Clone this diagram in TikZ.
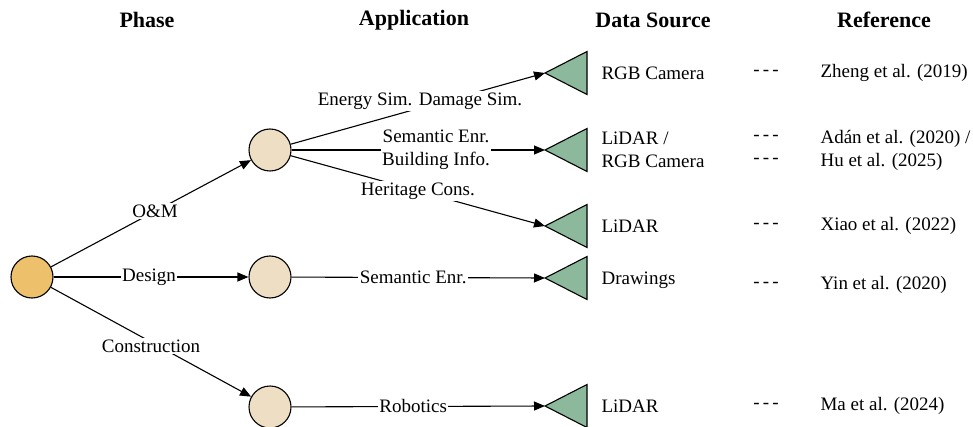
\documentclass[tikz,border=0pt]{standalone}
\usepackage{fontspec}
\setmainfont{Liberation Serif}
\usetikzlibrary{arrows.meta,positioning}
\definecolor{rootfill}{HTML}{EDC06C}
\definecolor{appfill}{HTML}{EEDEC3}
\definecolor{srcfill}{HTML}{8CB89B}
\begin{document}
\begin{tikzpicture}[x=1pt, y=-1pt, font=\fontsize{19}{23}\selectfont,
    phasenode/.style={circle, draw, line width=1.1pt, minimum size=42pt, inner sep=0pt},
    rootnode/.style={phasenode, fill=rootfill},
    appnode/.style={phasenode, fill=appfill},
    srctri/.style={draw, fill=srcfill, line width=1.1pt, line join=miter},
    link/.style={line width=1.1pt, -{Triangle[length=11pt,width=9pt]}},
    lbl/.style={fill=white, inner sep=1.5pt},
    head/.style={font=\fontsize{22}{26}\selectfont\bfseries},
    dashtxt/.style={inner sep=0pt}]
  \useasboundingbox (0,0) rectangle (973,427);
  % headings
  \node[head] (hphase) at (147,20) {Phase};
  \node[head] (happ) at (414,20) {Application};
  \node[head] (hsrc) at (653,20) {Data Source};
  \node[head] (href) at (884,20) {Reference};
  % phase and application nodes
  \node[rootnode] (root) at (32,277) {};
  \node[appnode] (om) at (270,150) {};
  \node[appnode] (des) at (270,277) {};
  \node[appnode] (con) at (270,407) {};
  % data source triangles
  \foreach \n/\y in {1/73, 2/150, 3/226, 4/278, 5/406} {
    \coordinate (d\n) at (545,\y);
    \draw[srctri] (d\n) -- ++(42,-21.5) -- ++(0,43) -- cycle;
  }
  % phase links
  \draw[link] (root) -- (om) node[lbl, pos=0.52] {O\&M};
  \draw[link] (root) -- (des) node[lbl, pos=0.49] {Design};
  \draw[link] (root) -- (con) node[lbl, pos=0.5, yshift=-4pt] {Construction};
  % application links
  \draw[link] (om) -- (d1);
  \node[lbl] (esim) at (420,101) {Energy Sim. Damage Sim.};
  \draw[link] (om) -- (d2) node[lbl, pos=0.57, align=center] {Semantic Enr.\\Building Info.};
  \draw[link] (om) -- (d3) node[lbl, pos=0.5] {Heritage Cons.};
  \draw[link] (des) -- (d4) node[lbl, pos=0.48] {Semantic Enr.};
  \draw[link] (con) -- (d5) node[lbl, pos=0.48] {Robotics};
  % data sources
  \node[anchor=west] (s1) at (598,73) {RGB Camera};
  \node[anchor=west, align=left] (s2) at (598,150) {LiDAR /\\RGB Camera};
  \node[anchor=west] (s3) at (598,226) {LiDAR};
  \node[anchor=west] (s4) at (598,280) {Drawings};
  \node[anchor=west] (s5) at (598,406) {LiDAR};
  % dashes
  \foreach \n/\y in {1/73, 2/138, 3/161, 4/226, 5/285, 6/406}
    \node[dashtxt] (dash\n) at (766,\y) {-\,-\,-};
  % references
  \node[anchor=west] (r1) at (817,73) {Zheng et al. (2019)};
  \node[anchor=west, align=left] (r2) at (817,150) {Adán et al. (2020) /\\Hu et al. (2025)};
  \node[anchor=west] (r3) at (817,226) {Xiao et al. (2022)};
  \node[anchor=west] (r4) at (817,285) {Yin et al. (2020)};
  \node[anchor=west] (r5) at (817,406) {Ma et al. (2024)};
\end{tikzpicture}
\end{document}
